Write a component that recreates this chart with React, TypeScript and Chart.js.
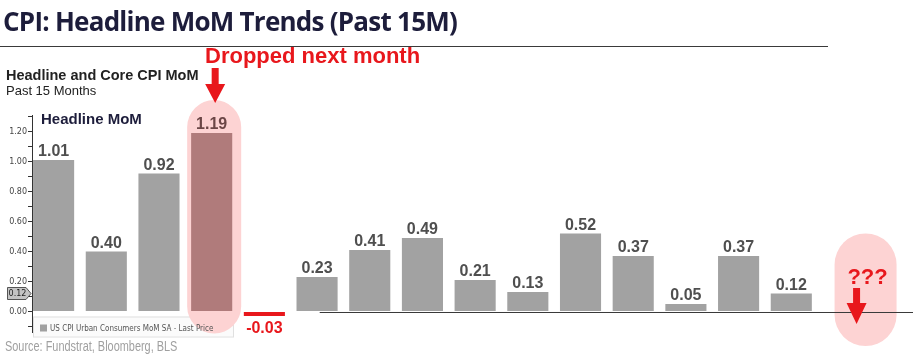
import React, { useEffect, useRef } from "react";
import { Chart, registerables } from "chart.js";

Chart.register(...registerables);

// ---- data ----
const categories = [
  "Mar-22", "Apr-22", "May-22", "Jun-22", "Jul-22", "Aug-22", "Sep-22", "Oct-22",
  "Nov-22", "Dec-22", "Jan-23", "Feb-23", "Mar-23", "Apr-23", "May-23",
];
const headlineMoM = [1.01, 0.4, 0.92, 1.19, -0.03, 0.23, 0.41, 0.49, 0.21, 0.13, 0.52, 0.37, 0.05, 0.37, 0.12];
const seriesName = "US CPI Urban Consumers MoM SA - Last Price";
const highlightedIndex = 3; // drops out of the YoY window next month
const yMin = -0.14;
const yMax = 1.31;
const yTickStep = 0.1;

const ARIAL = "'Liberation Sans', Arial, sans-serif";
const RED = "#e8171c";
const PINK = "#fdd3d3";

function roundCapsule(ctx: CanvasRenderingContext2D, cx: number, top: number, bottom: number, w: number) {
  const r = w / 2;
  ctx.beginPath();
  ctx.moveTo(cx - r, top + r);
  ctx.arc(cx, top + r, r, Math.PI, 0);
  ctx.lineTo(cx + r, bottom - r);
  ctx.arc(cx, bottom - r, r, 0, Math.PI);
  ctx.closePath();
  ctx.fill();
}

function downArrow(ctx: CanvasRenderingContext2D, x: number, top: number, neck: number, tip: number, shaftW: number, headW: number) {
  ctx.beginPath();
  ctx.moveTo(x - shaftW / 2, top);
  ctx.lineTo(x + shaftW / 2, top);
  ctx.lineTo(x + shaftW / 2, neck);
  ctx.lineTo(x + headW / 2, neck);
  ctx.lineTo(x, tip);
  ctx.lineTo(x - headW / 2, neck);
  ctx.lineTo(x - shaftW / 2, neck);
  ctx.closePath();
  ctx.fill();
}

const annotations = {
  id: "annotations",
  beforeDatasetsDraw(chart: any) {
    const ctx = chart.ctx as CanvasRenderingContext2D;
    const xs = chart.scales.x;
    const ys = chart.scales.y;
    const area = chart.chartArea;
    ctx.save();
    // legend box (background)
    const lx = area.left + 1;
    const ly = ys.getPixelForValue(-0.03) + 0.5;
    ctx.fillStyle = "#fbfbfb";
    ctx.fillRect(lx, ly, 200, area.bottom - ly + 4);
    ctx.strokeStyle = "#e0e0e0";
    ctx.lineWidth = 1;
    ctx.strokeRect(lx + 0.5, ly + 0.5, 200, area.bottom - ly + 4);

    // highlight capsule around the dropped month
    const hx = xs.getPixelForValue(highlightedIndex) + 2.5;
    ctx.fillStyle = PINK;
    roundCapsule(ctx, hx, ys.getPixelForValue(headlineMoM[highlightedIndex]) - 33, area.bottom + 1, 54);

    // capsule for the unknown next month
    const nx = xs.getPixelForValue(categories.length + 0.41);
    roundCapsule(ctx, nx, ys.getPixelForValue(0.52), ys.getPixelForValue(-0.23), 62);

    // legend content (truncated like the terminal legend)
    ctx.beginPath();
    ctx.rect(lx, ly, 183, 30);
    ctx.clip();
    ctx.fillStyle = "#a0a0a0";
    ctx.fillRect(lx + 7, ly + 8, 7, 7);
    ctx.fillStyle = "#555";
    ctx.font = `8px 'DejaVu Sans Condensed', 'DejaVu Sans', sans-serif`;
    ctx.textBaseline = "middle";
    ctx.textAlign = "left";
    ctx.fillText(seriesName, lx + 17, ly + 12);
    ctx.restore();
  },
  afterDatasetsDraw(chart: any) {
    const ctx = chart.ctx as CanvasRenderingContext2D;
    const xs = chart.scales.x;
    const ys = chart.scales.y;
    const area = chart.chartArea;
    const meta = chart.getDatasetMeta(0);
    ctx.save();
    // zero line
    const y0 = Math.round(ys.getPixelForValue(0)) + 0.5;
    ctx.strokeStyle = "#3a3a3a";
    ctx.lineWidth = 1.2;
    ctx.beginPath();
    ctx.moveTo(xs.getPixelForValue(5.05), y0);
    ctx.lineTo(area.right, y0);
    ctx.stroke();

    // value labels
    ctx.textAlign = "center";
    meta.data.forEach((bar: any, i: number) => {
      const v = headlineMoM[i];
      const txt = v.toFixed(2);
      ctx.font = `bold 16px ${ARIAL}`;
      if (v < 0) {
        ctx.fillStyle = RED;
        ctx.textBaseline = "top";
        ctx.fillText(txt, bar.x, bar.y + 5);
      } else {
        ctx.fillStyle = i === highlightedIndex ? "#6b4646" : "#4f4f4f";
        ctx.textBaseline = "alphabetic";
        ctx.fillText(txt, bar.x, bar.y - 4);
      }
    });

    // arrow into the highlighted month
    const hx = xs.getPixelForValue(highlightedIndex) + 3.5;
    ctx.fillStyle = RED;
    downArrow(ctx, hx, 68, 84, 103, 7, 20);

    // ??? and arrow for next month
    const nx = xs.getPixelForValue(categories.length + 0.41);
    ctx.font = `bold 22px ${ARIAL}`;
    ctx.textBaseline = "alphabetic";
    ctx.textAlign = "center";
    ctx.fillText("???", nx + 2, 284);
    downArrow(ctx, nx - 9, 288, 303, 324, 7, 20);

    // last value tag on the y axis
    const last = headlineMoM[headlineMoM.length - 1];
    const ty = ys.getPixelForValue(last);
    const tr = area.left - 1;
    ctx.beginPath();
    ctx.moveTo(7.5, ty - 6);
    ctx.lineTo(tr - 5, ty - 6);
    ctx.lineTo(tr, ty);
    ctx.lineTo(tr - 5, ty + 6);
    ctx.lineTo(7.5, ty + 6);
    ctx.closePath();
    ctx.fillStyle = "#c4c4c4";
    ctx.fill();
    ctx.strokeStyle = "#555";
    ctx.lineWidth = 1;
    ctx.stroke();
    ctx.fillStyle = "#222";
    ctx.font = `8px 'DejaVu Sans', sans-serif`;
    ctx.textAlign = "center";
    ctx.textBaseline = "middle";
    ctx.fillText(last.toFixed(2), 17.5, ty + 0.5);
    ctx.restore();
  },
};

export default function App() {
  const ref = useRef<HTMLCanvasElement | null>(null);
  useEffect(() => {
    if (!ref.current) return;
    const chart = new Chart(ref.current, {
      type: "bar",
      data: {
        labels: categories,
        datasets: [
          {
            label: seriesName,
            data: headlineMoM.map((v, i) => ({ x: i, y: v })),
            backgroundColor: headlineMoM.map((v, i) =>
              i === highlightedIndex ? "#b07b7b" : v < 0 ? RED : "#a2a2a2"
            ),
            borderWidth: 0,
            barPercentage: 0.78,
            categoryPercentage: 1,
          },
        ],
      },
      options: {
        animation: false,
        responsive: true,
        maintainAspectRatio: false,
        layout: { padding: { left: 0, top: 115, right: 2, bottom: 28.5 } },
        plugins: { legend: { display: false }, tooltip: { enabled: false } },
        scales: {
          x: { type: "linear", min: -0.41, max: 16.31, offset: false, display: false },
          y: {
            min: yMin,
            max: yMax,
            afterFit(scale: any) {
              scale.width = 32;
            },
            border: { display: true, color: "#333", width: 1 },
            grid: { drawOnChartArea: false, drawTicks: true, tickLength: 4, tickColor: "#333" },
            ticks: {
              stepSize: yTickStep,
              includeBounds: false,
              padding: 1,
              color: "#444",
              font: { family: "'DejaVu Sans', sans-serif", size: 8 },
              callback: (v: any) => {
                const n = Math.round(Number(v) * 10);
                return n >= 0 && n % 2 === 0 && n <= 12 ? (n / 10).toFixed(2) : "";
              },
            },
          },
        },
      },
      plugins: [annotations],
    });
    return () => chart.destroy();
  }, []);

  return (
    <div style={{ position: "fixed", left: 0, top: 0, width: 915, height: 361, background: "#fff", overflow: "hidden" }}>
      <div style={{ position: "absolute", left: 0, top: 0, width: 915, height: 361 }}>
        <canvas ref={ref} />
      </div>
      <div style={{ position: "absolute", left: 3, top: 3, font: `700 26px 'Open Sans', sans-serif`, letterSpacing: "-0.75px", color: "#1d1d3b", whiteSpace: "nowrap", lineHeight: "36px" }}>
        CPI: Headline MoM Trends (Past 15M)
      </div>
      <div style={{ position: "absolute", left: 0, top: 46, width: 828, height: 1, background: "#3a3a3a" }} />
      <div style={{ position: "absolute", left: 205, top: 43, font: `bold 22px ${ARIAL}`, color: RED, whiteSpace: "nowrap", lineHeight: "26px" }}>
        Dropped next month
      </div>
      <div style={{ position: "absolute", left: 6, top: 67, font: `bold 14.5px ${ARIAL}`, color: "#222", whiteSpace: "nowrap", lineHeight: "17px" }}>
        Headline and Core CPI MoM
      </div>
      <div style={{ position: "absolute", left: 6, top: 83, font: `13px ${ARIAL}`, color: "#222", whiteSpace: "nowrap", lineHeight: "15px" }}>
        Past 15 Months
      </div>
      <div style={{ position: "absolute", left: 41, top: 110, font: `bold 15px ${ARIAL}`, color: "#1d1d3b", whiteSpace: "nowrap", lineHeight: "18px" }}>
        Headline MoM
      </div>
      <div style={{ position: "absolute", left: 5, top: 338, font: `14px ${ARIAL}`, color: "#a0a0a0", whiteSpace: "nowrap", lineHeight: "17px", transform: "scaleX(0.78)", transformOrigin: "left top" }}>
        Source: Fundstrat, Bloomberg, BLS
      </div>
    </div>
  );
}
